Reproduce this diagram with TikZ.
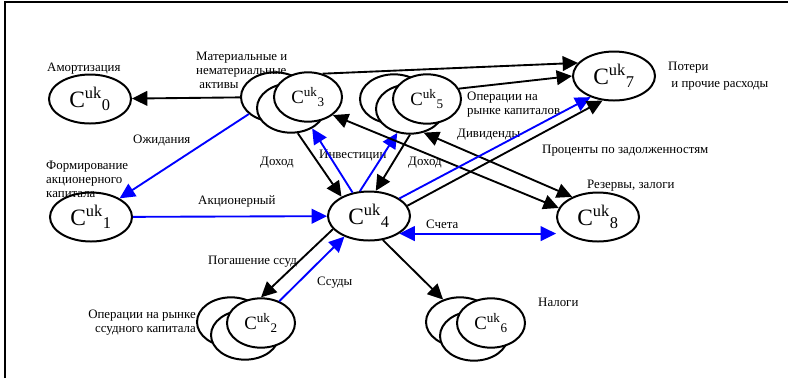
\documentclass[tikz,border=0pt]{standalone}
\usepackage{fontspec}
\setmainfont{Liberation Serif}
\usetikzlibrary{shapes.geometric,arrows.meta}

\newcommand{\cuk}[1]{C\textsuperscript{uk}\textsubscript{#1}}

\begin{document}
\begin{tikzpicture}[x=0.03cm, y=-0.03cm,
	bigc/.style={ellipse, draw, line width=1.7pt, fill=white, minimum width=2.46cm, minimum height=1.47cm, inner sep=0pt, font=\fontsize{20}{20}\selectfont},
	smallc/.style={bigc, minimum width=2.04cm, minimum height=1.48cm, font=\fontsize{16}{16}\selectfont},
	lbl/.style={inner sep=0pt, align=left, font=\fontsize{11}{12}\selectfont},
	flow/.style={->, line width=1.6pt},
	inv/.style={flow, blue},
	>={Triangle[length=4.6mm, width=4.4mm]},
	]
	\useasboundingbox (0,0) rectangle (788,378);
	\draw[line width=1.8pt] (5,378) -- (5,2) -- (788,2);

	%Nodes
	\node[bigc]   (c0)  at (90,99)   {\cuk{0}};
	\node[bigc]   (c1)  at (91,217)  {\cuk{1}};
	\node[bigc]   (c4)  at (369,216) {\cuk{4}};
	\node[bigc]   (c7)  at (614,76)  {\cuk{7}};
	\node[bigc]   (c8)  at (598,217) {\cuk{8}};

	\node[smallc] (c3a) at (275,97)  {};
	\node[smallc] (c3b) at (291,108) {};
	\node[smallc] (c3)  at (308,97)  {\cuk{3}};

	\node[smallc] (c5a) at (394,99)  {};
	\node[smallc] (c5b) at (410,109) {};
	\node[smallc] (c5)  at (427,99)  {\cuk{5}};

	\node[smallc] (c2a) at (231,322) {};
	\node[smallc] (c2b) at (245,335) {};
	\node[smallc] (c2)  at (261,323) {\cuk{2}};

	\node[smallc] (c6a) at (460,322) {};
	\node[smallc] (c6b) at (474,336) {};
	\node[smallc] (c6)  at (491,323) {\cuk{6}};

	%Labels
	\node[lbl, anchor=north west] (lamort) at (47,63)   {Амортизация};
	\node[lbl, anchor=north west] (lassets) at (196,52) {Материальные и\\нематериальные\\\ активы};
	\node[lbl, anchor=north west] (lexp)  at (133,135)  {Ожидания};
	\node[lbl, anchor=north west] (lform) at (46,161)   {Формирование\\акционерного\\капитала};
	\node[lbl, anchor=north west] (lshare) at (198,195) {Акционерный};
	\node[lbl, anchor=north west] (linc3) at (260,157)  {Доход};
	\node[lbl, anchor=north west] (linv)  at (319,150)  {Инвестиции};
	\node[lbl, anchor=north west] (linc5) at (408,157)  {Доход};
	\node[lbl, anchor=north west] (ldiv)  at (457,129)  {Дивиденды};
	\node[lbl, anchor=north west] (lcapm) at (467,92)   {Операции на\\рынке капиталов};
	\node[lbl, anchor=north west] (lint)  at (542,145)  {Проценты по задолженностям};
	\node[lbl, anchor=north west] (lloss) at (668,62)   {Потери\\[2pt]\ и прочие расходы};
	\node[lbl, anchor=north west] (lres)  at (587,180)  {Резервы, залоги};
	\node[lbl, anchor=north west] (lacc)  at (426,220)  {Счета};
	\node[lbl, anchor=north west] (lrep)  at (208,256)  {Погашение ссуд};
	\node[lbl, anchor=north west] (lloan) at (317,277)  {Ссуды};
	\node[lbl, anchor=north east, align=right] (lloanm) at (196,310) {Операции на рынке\\ссудного капитала};
	\node[lbl, anchor=north west] (ltax)  at (538,298)  {Налоги};

	%Lines
	\draw[flow] (c3a) -- (c0);
	\draw[inv]  (c3a) -- (c1);
	\draw[flow] (c3.58) -- (c7.160);
	\draw[flow] (c5.18) -- (c7.180);
	\draw[inv]  (c1) -- (c4);
	\draw[flow] (c3b.285) -- (c4.145);
	\draw[inv]  (c4.125) -- (c3b.316);
	\draw[inv]  (c4.110) -- (c5b.242);
	\draw[flow] (c5b.south) -- (c4.75);
	\draw[flow, <->] (c3.324) -- (c8.167);
	\draw[flow, <->] (c5b.300) -- (c8.142);
	\draw[inv]  (c4.30) -- (c7.222);
	\draw[flow] (c4.15) -- (c7.245);
	\draw[inv, <->] (c4.330) -- (c4.330 -| c8.west);
	\draw[flow] (c4.300) -- (c6a.127);
	\draw[flow] (c4.200) -- (c2.north);
	\draw[inv]  (c2.50) -- (c4.220);
\end{tikzpicture}
\end{document}
